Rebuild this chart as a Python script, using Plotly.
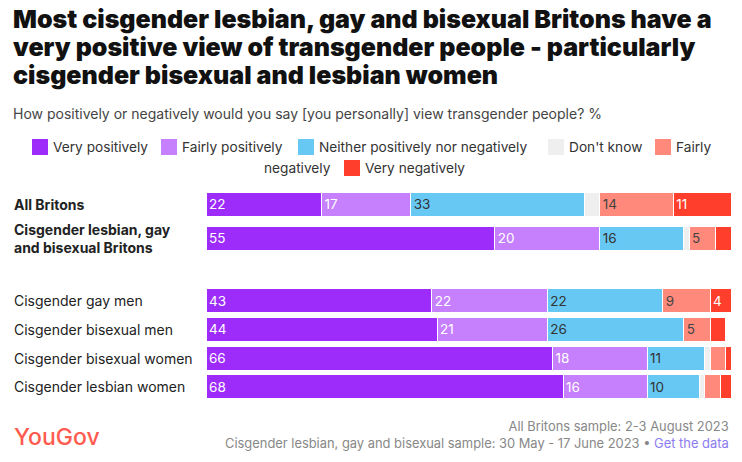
import plotly.graph_objects as go

categories = [
    "<b>All Britons</b>",
    "<b>Cisgender lesbian, gay<br>and bisexual Britons</b>",
    "Cisgender gay men",
    "Cisgender bisexual men",
    "Cisgender bisexual women",
    "Cisgender lesbian women",
]
series_names = ["Very positively", "Fairly positively", "Neither positively nor negatively",
                "Don't know", "Fairly negatively", "Very negatively"]
very_positively = [22, 55, 43, 44, 66, 68]
fairly_positively = [17, 20, 22, 21, 18, 16]
neither = [33, 16, 22, 26, 11, 10]
dont_know = [3, 1, 0, 0, 1, 1]
fairly_negatively = [14, 5, 9, 5, 3, 3]
very_negatively = [11, 3, 4, 3, 1, 2]

title_lines = ["Most cisgender lesbian, gay and bisexual Britons have a",
               "very positive view of transgender people - particularly",
               "cisgender bisexual and lesbian women"]
subtitle_text = "How positively or negatively would you say [you personally] view transgender people? %"
footer_text = ("All Britons sample: 2-3 August 2023<br>"
               "Cisgender lesbian, gay and bisexual sample: 30 May - 17 June 2023 • "
               "<span style='color:#8a7cf0'>Get the data</span>")

# ---- layout constants (positions, not data) ----
row_pos = [0, 1.18, 3.37, 4.37, 5.37, 6.37]
W, H = 742, 462
L, R, T, B = 206, 11, 190, 61
pw, ph = W - L - R, H - T - B
FONT = "Inter"

colors = ["#9d2cfb", "#c67ffd", "#67c8f4", "#efefef", "#ff8a7b", "#ff3f2b"]
text_colors = ["white", "white", "#333333", "#333333", "#444444", "white"]

values = [very_positively, fairly_positively, neither, dont_know, fairly_negatively, very_negatively]


def px(x):
    return (x - L) / pw


def py(y):
    return 1 - (y - T) / ph


fig = go.Figure()
for name, vals, col, tcol in zip(series_names, values, colors, text_colors):
    fig.add_trace(go.Bar(
        y=row_pos, x=vals, name=name, orientation="h",
        marker=dict(color=col, line=dict(color="white", width=1)),
        width=0.84,
        text=[str(v) if (v >= 4 and name != "Don't know") else "" for v in vals],
        textposition="inside", insidetextanchor="start", textangle=0,
        textfont=dict(color=tcol, size=13.5, family=FONT),
        constraintext="none",
        hoverinfo="skip", showlegend=False,
    ))

# category labels (left-aligned)
for cat, yp in zip(categories, row_pos):
    fig.add_annotation(x=px(12), xref="paper", y=yp, yref="y", text=cat,
                       xanchor="left", yanchor="middle", align="left", showarrow=False,
                       font=dict(size=14, color="#222222", family=FONT))

# title (three lines, 28px apart)
for i, line in enumerate(title_lines):
    fig.add_annotation(xref="paper", yref="paper", x=px(11), y=py(19 + 28 * i), text=line,
                       xanchor="left", yanchor="middle", align="left", showarrow=False,
                       font=dict(size=25, color="#111111", family=FONT, weight=900))

# subtitle
fig.add_annotation(xref="paper", yref="paper", x=px(11), y=py(113), text=subtitle_text,
                   xanchor="left", yanchor="middle", showarrow=False,
                   font=dict(size=14, color="#444444", family=FONT))

# manual legend (wrapping like the reference)
legend_items = [  # (series index, square left x, row y, text)
    (0, 32, 147, "Very positively"),
    (1, 161, 147, "Fairly positively"),
    (2, 298, 147, "Neither positively nor negatively"),
    (3, 548, 147, "Don't know"),
    (4, 655, 147, "Fairly"),
    (5, 344, 168, "Very negatively"),
]
for idx, sx, sy, txt in legend_items:
    fig.add_shape(type="rect", xref="paper", yref="paper",
                  x0=px(sx), x1=px(sx + 16), y0=py(sy - 8), y1=py(sy + 8),
                  fillcolor=colors[idx], line=dict(width=0))
    fig.add_annotation(xref="paper", yref="paper", x=px(sx + 19), y=py(sy), text=txt,
                       xanchor="left", yanchor="middle", showarrow=False,
                       font=dict(size=13.7, color="#333333", family=FONT))
fig.add_annotation(xref="paper", yref="paper", x=px(262), y=py(168), text="negatively",
                   xanchor="left", yanchor="middle", showarrow=False,
                   font=dict(size=13.7, color="#333333", family=FONT))

# footer
fig.add_annotation(xref="paper", yref="paper", x=px(12), y=py(437),
                   text="YouGov", xanchor="left", yanchor="middle", showarrow=False,
                   font=dict(size=23, color="#ff5b4f", family=FONT, weight=500))
fig.add_annotation(xref="paper", yref="paper", x=1, y=py(435),
                   text=footer_text, xanchor="right", yanchor="middle", align="right", showarrow=False,
                   font=dict(size=12.9, color="#888888", family=FONT))

fig.update_layout(
    width=W, height=H, barmode="stack",
    margin=dict(l=L, r=R, t=T, b=B, autoexpand=False),
    paper_bgcolor="white", plot_bgcolor="white",
    xaxis=dict(range=[0, 100], visible=False, fixedrange=True),
    yaxis=dict(range=[6.87, -0.5], visible=False, fixedrange=True),
    showlegend=False,
)

fig.write_html("out.html")
